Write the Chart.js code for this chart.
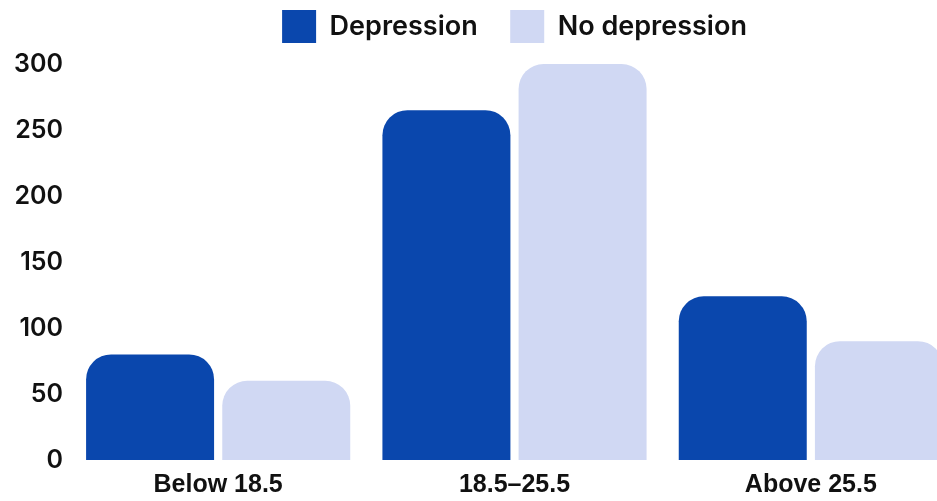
<!DOCTYPE html>
<html>
<head>
<meta charset="utf-8">
<script src="https://cdn.jsdelivr.net/npm/chart.js@4/dist/chart.umd.min.js"></script>
<style>
  html, body { margin: 0; padding: 0; background: #fff; overflow: hidden; }
  #wrap { position: relative; width: 959px; height: 501px; }
</style>
</head>
<body>
<div id="wrap"><canvas id="c"></canvas></div>
<script>
// BMI groups and counts of respondents with / without depression
const categories = ['Below 18.5', '18.5–25.5', 'Above 25.5'];
const depression = [80, 265, 124];
const noDepression = [60, 300, 90];
const yTicks = [0, 50, 100, 150, 200, 250, 300];

const DARK = '#0A47AD';
const LIGHT = '#D0D8F3';

// extra space between the legend row and the plot
const legendGap = {
  id: 'legendGap',
  beforeInit(chart) {
    const fit = chart.legend.fit;
    chart.legend.fit = function () {
      fit.call(this);
      this.height += 11;
    };
  }
};

new Chart(document.getElementById('c'), {
  type: 'bar',
  data: {
    labels: categories,
    datasets: [
      { label: 'Depression', data: depression, backgroundColor: DARK },
      { label: 'No depression', data: noDepression, backgroundColor: LIGHT }
    ]
  },
  plugins: [legendGap],
  options: {
    responsive: true,
    maintainAspectRatio: false,
    animation: false,
    layout: { padding: { left: 0, right: 0, top: 0, bottom: -9 } },
    datasets: {
      bar: {
        categoryPercentage: 0.919,
        barPercentage: 0.94,
        borderRadius: { topLeft: 25, topRight: 25, bottomLeft: 0, bottomRight: 0 },
        borderSkipped: 'bottom'
      }
    },
    plugins: {
      tooltip: { enabled: false },
      legend: {
        position: 'top',
        fullSize: false,
        labels: {
          boxWidth: 34,
          boxHeight: 33,
          padding: 10,
          color: '#111',
          font: { family: 'Inter, sans-serif', size: 27, weight: '600' },
          generateLabels(chart) {
            const items = Chart.defaults.plugins.legend.labels.generateLabels(chart);
            // a little extra room after the first entry
            items.forEach((it, i) => {
              it.lineWidth = 0;
              if (i < items.length - 1) it.text = it.text + '\u2002\u2004';
            });
            return items;
          }
        }
      }
    },
    scales: {
      x: {
        grid: { display: false, drawTicks: false },
        border: { display: false },
        ticks: {
          color: '#111',
          padding: 10,
          font: { family: '"Liberation Sans", Arial, sans-serif', size: 25, weight: 'bold' }
        }
      },
      y: {
        min: 0,
        max: 300,
        grid: { display: false, drawTicks: false },
        border: { display: false },
        afterFit(scale) { scale.width = 70; },
        afterBuildTicks(scale) { scale.ticks = yTicks.map(v => ({ value: v })); },
        ticks: {
          color: '#111',
          padding: 7,
          font: { family: 'Inter, sans-serif', size: 25, weight: '600' }
        }
      }
    }
  }
});
</script>
</body>
</html>
